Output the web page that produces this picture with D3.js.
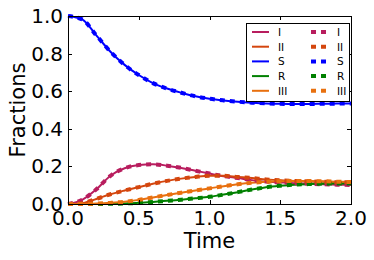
<!DOCTYPE html>
<html>
<head>
<meta charset="utf-8">
<script src="https://cdn.jsdelivr.net/npm/d3@7"></script>
<style>
  body { margin: 0; background: #fff; }
  svg { display: block; font-family: "DejaVu Sans", sans-serif; }
</style>
</head>
<body>
<div id="chart"></div>
<script>
// time grid
var times = [0.0, 0.1, 0.2, 0.3, 0.4, 0.5, 0.6, 0.7, 0.8, 0.9, 1.0,
             1.1, 1.2, 1.3, 1.4, 1.5, 1.6, 1.7, 1.8, 1.9, 2.0];
var seriesNames = ["I", "II", "S", "R", "III"];
var valuesI   = [0, 0.022, 0.078, 0.150, 0.190, 0.207, 0.211, 0.204, 0.192, 0.177, 0.162,
                 0.148, 0.138, 0.127, 0.119, 0.115, 0.111, 0.108, 0.105, 0.103, 0.101];
var valuesII  = [0, 0.004, 0.027, 0.052, 0.072, 0.090, 0.108, 0.123, 0.135, 0.144, 0.150,
                 0.150, 0.144, 0.138, 0.131, 0.126, 0.123, 0.120, 0.118, 0.116, 0.115];
var valuesS   = [1.0, 0.982, 0.897, 0.810, 0.740, 0.686, 0.643, 0.614, 0.592, 0.573, 0.560,
                 0.551, 0.544, 0.539, 0.535, 0.533, 0.532, 0.532, 0.533, 0.534, 0.535];
var valuesR   = [0, 0, 0, 0.001, 0.003, 0.006, 0.011, 0.017, 0.023, 0.030, 0.038,
                 0.050, 0.063, 0.077, 0.089, 0.097, 0.103, 0.106, 0.108, 0.109, 0.110];
var valuesIII = [0, 0, 0.002, 0.006, 0.012, 0.022, 0.035, 0.048, 0.060, 0.072, 0.083,
                 0.095, 0.105, 0.113, 0.118, 0.121, 0.122, 0.122, 0.121, 0.119, 0.117];
var xTicks = [0.0, 0.5, 1.0, 1.5, 2.0];
var yTicks = [0.0, 0.2, 0.4, 0.6, 0.8, 1.0];

var colors = {"I": "#b81d5e", "II": "#d4460e", "S": "#0000ff", "R": "#008000", "III": "#e8700f"};
var allValues = [valuesI, valuesII, valuesS, valuesR, valuesIII];

var width = 374, height = 260;
var margin = {left: 68, right: 23, top: 16, bottom: 56};

var svg = d3.select("#chart").append("svg")
    .attr("width", width)
    .attr("height", height);

var x = d3.scaleLinear().domain([0, 2]).range([margin.left, width - margin.right]);
var y = d3.scaleLinear().domain([0, 1]).range([height - margin.bottom, margin.top]);

var series = seriesNames.map(function(name, i){
    return {name: name, points: times.map(function(t, j){ return [t, allValues[i][j]]; })};
});

var line = d3.line()
    .x(function(d){ return x(d[0]); })
    .y(function(d){ return y(d[1]); })
    .curve(d3.curveMonotoneX);

var plot = svg.append("g");

// solid lines first
plot.selectAll(".solid")
    .data(series)
    .enter()
    .append("path")
    .attr("fill", "none")
    .attr("stroke", function(d){ return colors[d.name]; })
    .attr("stroke-width", 2)
    .attr("d", function(d){ return line(d.points); });

// dotted copies on top
plot.selectAll(".dotted")
    .data(series)
    .enter()
    .append("path")
    .attr("fill", "none")
    .attr("stroke", function(d){ return colors[d.name]; })
    .attr("stroke-width", 4)
    .attr("stroke-dasharray", "5,5")
    .attr("d", function(d){ return line(d.points); });

// ticks inside on all sides
var ax = svg.append("g").attr("stroke", "#000").attr("stroke-width", 1);
xTicks.forEach(function(t){
    var px = Math.round(x(t)) + 0.5;
    ax.append("line").attr("x1", px).attr("x2", px).attr("y1", y(0)).attr("y2", y(0) - 4);
    ax.append("line").attr("x1", px).attr("x2", px).attr("y1", y(1)).attr("y2", y(1) + 4);
});
yTicks.forEach(function(t){
    var py = Math.round(y(t)) + 0.5;
    ax.append("line").attr("x1", x(0)).attr("x2", x(0) + 4).attr("y1", py).attr("y2", py);
    ax.append("line").attr("x1", x(2)).attr("x2", x(2) - 4).attr("y1", py).attr("y2", py);
});

svg.append("rect")
    .attr("x", x(0) + 0.5)
    .attr("y", y(1) + 0.5)
    .attr("width", x(2) - x(0))
    .attr("height", y(0) - y(1))
    .attr("fill", "none")
    .attr("stroke", "#000")
    .attr("stroke-width", 1);

// tick labels
svg.selectAll(".xlab")
    .data(xTicks)
    .enter()
    .append("text")
    .attr("x", function(d){ return x(d); })
    .attr("y", y(0) + 21)
    .attr("text-anchor", "middle")
    .attr("font-size", 20)
    .text(function(d){ return d.toFixed(1); });

svg.selectAll(".ylab")
    .data(yTicks)
    .enter()
    .append("text")
    .attr("x", x(0) - 5)
    .attr("y", function(d){ return y(d) + 7; })
    .attr("text-anchor", "end")
    .attr("font-size", 20)
    .text(function(d){ return d.toFixed(1); });

svg.append("text")
    .attr("x", (x(0) + x(2)) / 2)
    .attr("y", 248)
    .attr("text-anchor", "middle")
    .attr("font-size", 21)
    .text("Time");

svg.append("text")
    .attr("transform", "translate(25," + (y(0) + y(1)) / 2 + ") rotate(-90)")
    .attr("text-anchor", "middle")
    .attr("font-size", 21)
    .text("Fractions");

// legend, two columns
var legend = svg.append("g");
legend.append("rect")
    .attr("x", 246.5).attr("y", 23.5)
    .attr("width", 103).attr("height", 78)
    .attr("fill", "#fff")
    .attr("stroke", "#000")
    .attr("stroke-width", 1);

var rows = legend.selectAll(".row")
    .data(series)
    .enter()
    .append("g")
    .attr("transform", function(d, i){ return "translate(0," + (32 + i * 14.7) + ")"; });

rows.append("line")
    .attr("x1", 252).attr("x2", 269)
    .attr("stroke", function(d){ return colors[d.name]; })
    .attr("stroke-width", 2);
rows.append("text")
    .attr("x", 278).attr("y", 4)
    .attr("font-size", 10.5)
    .text(function(d){ return d.name; });
rows.append("line")
    .attr("x1", 311).attr("x2", 328)
    .attr("stroke", function(d){ return colors[d.name]; })
    .attr("stroke-width", 4)
    .attr("stroke-dasharray", "5,5");
rows.append("text")
    .attr("x", 337).attr("y", 4)
    .attr("font-size", 10.5)
    .text(function(d){ return d.name; });
</script>
</body>
</html>
